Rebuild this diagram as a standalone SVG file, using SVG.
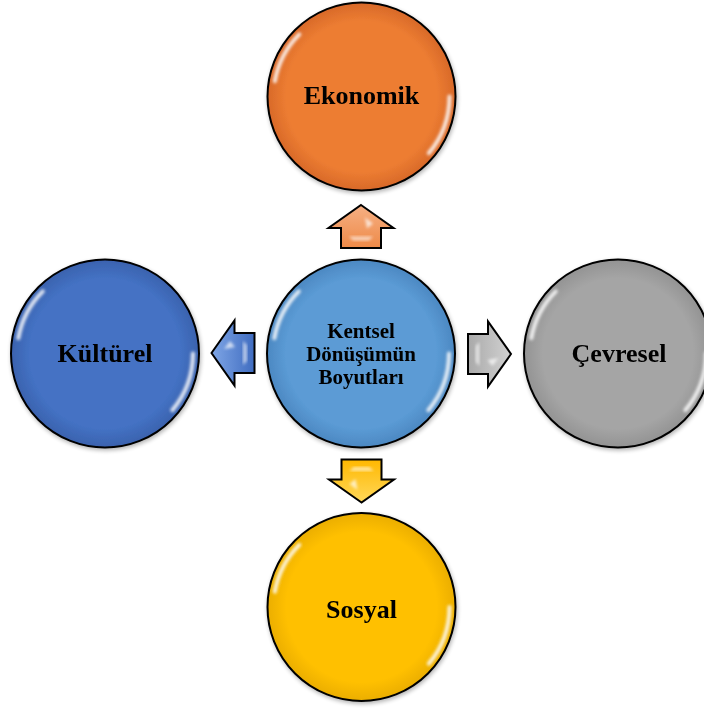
<svg xmlns="http://www.w3.org/2000/svg" width="704" height="710" viewBox="0 0 704 710">
<style>
.ring{stroke:#000;stroke-width:2}
.lbl{font-family:"Liberation Serif","Times New Roman",serif;font-weight:bold;fill:#000;text-anchor:middle}
.big{font-size:26px}
.mid{font-size:21px}
.arr{stroke:#000;stroke-width:2;stroke-linejoin:miter}
.gl{fill:none;stroke:#fff;stroke-width:4;stroke-linecap:round;opacity:.85;filter:url(#blur)}
</style>
<defs>
<filter id="blur" x="-20%" y="-20%" width="140%" height="140%"><feGaussianBlur stdDeviation="1.4"/></filter>
<filter id="sh" x="-10%" y="-10%" width="125%" height="125%"><feGaussianBlur in="SourceAlpha" stdDeviation="2"/><feOffset dx="1" dy="2"/><feComponentTransfer><feFuncA type="linear" slope="0.3"/></feComponentTransfer><feMerge><feMergeNode/><feMergeNode in="SourceGraphic"/></feMerge></filter>
<radialGradient id="gO" cx="50%" cy="50%" r="50%"><stop offset="0.8" stop-color="#ED7D31"/><stop offset="1" stop-color="#D8692A"/></radialGradient>
<radialGradient id="gB" cx="50%" cy="50%" r="50%"><stop offset="0.8" stop-color="#5B9BD5"/><stop offset="1" stop-color="#4C88C2"/></radialGradient>
<radialGradient id="gG" cx="50%" cy="50%" r="50%"><stop offset="0.8" stop-color="#A5A5A5"/><stop offset="1" stop-color="#939393"/></radialGradient>
<radialGradient id="gD" cx="50%" cy="50%" r="50%"><stop offset="0.8" stop-color="#4472C4"/><stop offset="1" stop-color="#3A62AE"/></radialGradient>
<radialGradient id="gY" cx="50%" cy="50%" r="50%"><stop offset="0.8" stop-color="#FFC000"/><stop offset="1" stop-color="#EBAE00"/></radialGradient>
<linearGradient id="aO" x1="0" y1="0" x2="0" y2="1"><stop offset="0" stop-color="#F6B084"/><stop offset="1" stop-color="#EE8A48"/></linearGradient>
<linearGradient id="aB" x1="0" y1="0" x2="0" y2="1"><stop offset="0" stop-color="#7FA6E6"/><stop offset="1" stop-color="#3F6CC0"/></linearGradient>
<linearGradient id="aG" x1="0" y1="0" x2="0" y2="1"><stop offset="0" stop-color="#D2D2D2"/><stop offset="1" stop-color="#A9A9A9"/></linearGradient>
<linearGradient id="aY" x1="0" y1="0" x2="0" y2="1"><stop offset="0" stop-color="#FFD85A"/><stop offset="1" stop-color="#FFB800"/></linearGradient>
<g id="gloss">
<path class="gl" d="M-62.2,-62.2 A88,88 0 0 0 -86.7,-15.3"/>
<path class="gl" d="M67.4,56.6 A88,88 0 0 0 88,0"/>
</g>
<path id="arrow" d="M0,-21.5 L32.5,1.5 L20,1.5 L20,21.5 L-20,21.5 L-20,1.5 L-32.5,1.5 Z"/>
<g id="ahl">
<path d="M4,-9 L12,-3 L6,2 Z" fill="#fff" opacity="0.7" filter="url(#blur)"/>
<path d="M-12,10 L12,10 L8,14 L-8,14 Z" fill="#fff" opacity="0.6" filter="url(#blur)"/>
</g>
</defs>

<g id="connectors">
<g id="arrow-up" transform="translate(361,226.5)">
<use href="#arrow" class="arr" fill="url(#aO)"/><use href="#ahl"/>
</g>
<g id="arrow-right" transform="translate(489.5,354) rotate(90)">
<use href="#arrow" class="arr" fill="url(#aG)"/><use href="#ahl"/>
</g>
<g id="arrow-down" transform="translate(361.5,481) rotate(180)">
<use href="#arrow" class="arr" fill="url(#aY)"/><use href="#ahl"/>
</g>
<g id="arrow-left" transform="translate(233,353) rotate(-90)">
<use href="#arrow" class="arr" fill="url(#aB)"/><use href="#ahl"/>
</g>
</g>

<g id="node-center" filter="url(#sh)">
<circle class="ring" cx="361" cy="353.5" r="94" fill="url(#gB)"/>
<use href="#gloss" x="361" y="353.5"/>
<text class="lbl mid" x="361" y="338">Kentsel</text>
<text class="lbl mid" x="361" y="361">Dönüşümün</text>
<text class="lbl mid" x="361" y="384">Boyutları</text>
</g>

<g id="node-ekonomik" filter="url(#sh)">
<circle class="ring" cx="361.5" cy="96.5" r="94" fill="url(#gO)"/>
<use href="#gloss" x="361.5" y="96.5"/>
<text class="lbl big" x="361.5" y="104">Ekonomik</text>
</g>

<g id="node-cevresel" filter="url(#sh)">
<circle class="ring" cx="618" cy="353.5" r="94" fill="url(#gG)"/>
<use href="#gloss" x="618" y="353.5"/>
<text class="lbl big" x="619" y="362">Çevresel</text>
</g>

<g id="node-kulturel" filter="url(#sh)">
<circle class="ring" cx="105" cy="353.5" r="94" fill="url(#gD)"/>
<use href="#gloss" x="105" y="353.5"/>
<text class="lbl big" x="105" y="362">Kültürel</text>
</g>

<g id="node-sosyal" filter="url(#sh)">
<circle class="ring" cx="361.5" cy="607" r="94" fill="url(#gY)"/>
<use href="#gloss" x="361.5" y="607"/>
<text class="lbl big" x="361.5" y="618">Sosyal</text>
</g>
</svg>
